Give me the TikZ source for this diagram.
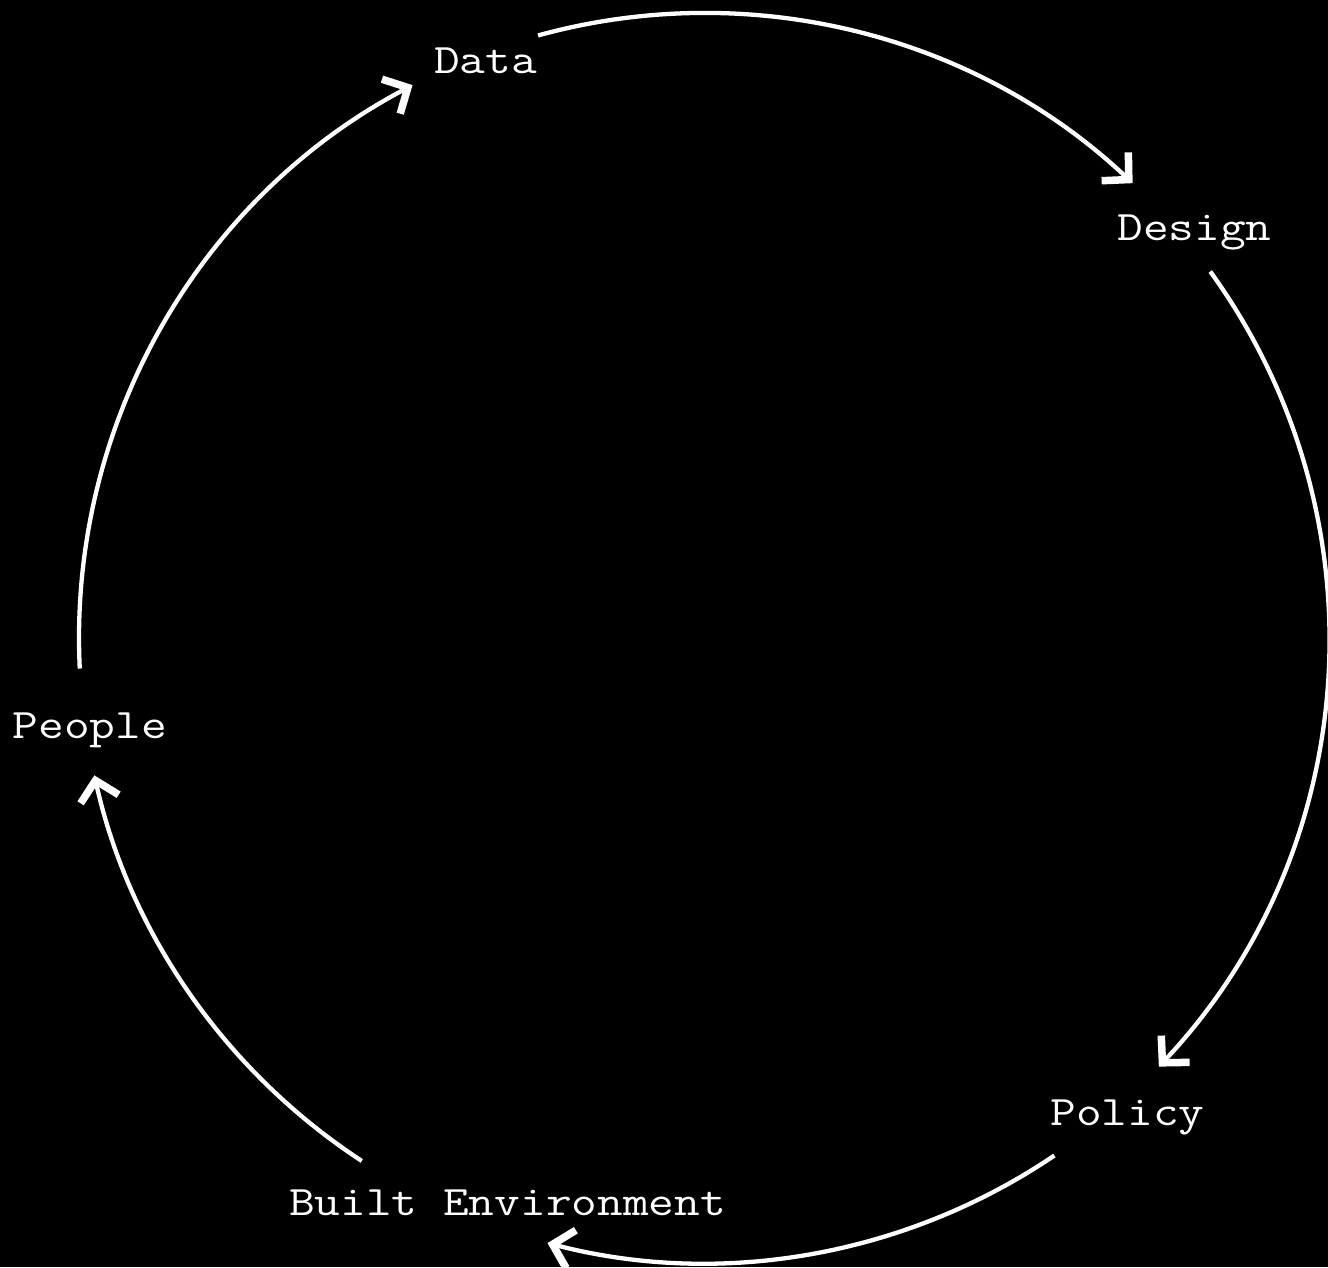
\documentclass[tikz,border=0pt]{standalone}
\usepackage{fontspec}
\usepackage{graphicx}
\usetikzlibrary{arrows.meta,calc}
\newcommand{\lbltext}[1]{\scalebox{1.188}[1]{#1}}
\begin{document}
\begin{tikzpicture}[x=1pt,y=1pt,
  lbl/.style={text=white,anchor=base,inner sep=0pt,font=\ttfamily\fontsize{42}{50}\selectfont},
  cyc/.style={draw=white,line width=4.3pt,-{Straight Barb[length=19pt,width=39pt,line width=7.5pt,sharp]}}]
\fill[black] (0,0) rectangle (1328,1267);
\useasboundingbox (0,0) rectangle (1328,1267);
\coordinate (O) at (704,629);
\node[lbl] (data) at (485.5,1193.5) {\lbltext{Data}};
\node[lbl] (design) at (1194.5,1026) {\lbltext{Design}};
\node[lbl] (policy) at (1127.5,141) {\lbltext{Policy}};
\node[lbl] (built) at (507.5,51.3) {\lbltext{Built Environment}};
\node[lbl] (people) at (89.7,528.7) {\lbltext{People}};
\draw[cyc] ($(O)+(105.4:625pt)$) arc[start angle=105.4,end angle=46.7,radius=625pt];
\draw[cyc] ($(O)+(35.9:625pt)$) arc[start angle=35.9,end angle=-43.3,radius=625pt];
\draw[cyc] ($(O)+(-55.9:625pt)$) arc[start angle=-55.9,end angle=-104.5,radius=625pt];
\draw[cyc] ($(O)+(-123.2:625pt)$) arc[start angle=-123.2,end angle=-167.3,radius=625pt];
\draw[cyc] ($(O)+(182.8:625pt)$) arc[start angle=182.8,end angle=117.8,radius=625pt];
\end{tikzpicture}
\end{document}
